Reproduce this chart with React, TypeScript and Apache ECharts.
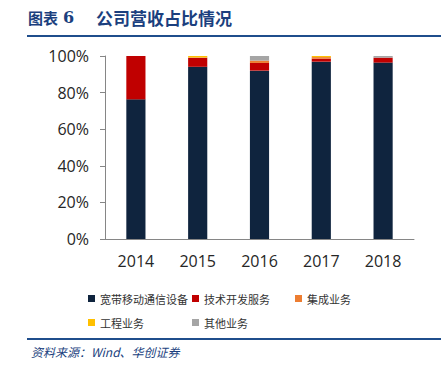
import React, { useEffect, useRef } from "react";
import * as echarts from "echarts";

const years = ["2014", "2015", "2016", "2017", "2018"];
const broadband = [76.3, 94.1, 92.0, 96.9, 96.4];
const techService = [23.7, 4.9, 4.2, 1.6, 2.7];
const integration = [0, 0.2, 1.3, 0.9, 0];
const engineering = [0, 0.8, 0, 0.6, 0];
const other = [0, 0, 2.5, 0, 0.9];
const seriesNames = ["宽带移动通信设备", "技术开发服务", "集成业务", "工程业务", "其他业务"];
const seriesColors = ["#0F243E", "#C00000", "#ED7D31", "#FFC000", "#A5A5A5"];
const yTicks = [0, 20, 40, 60, 80, 100];

export default function App() {
  const ref = useRef<HTMLDivElement>(null);
  useEffect(() => {
    if (!ref.current) return;
    const chart = echarts.init(ref.current, null, { renderer: "svg" });
    const values = [broadband, techService, integration, engineering, other];
    const legendText = {
      fontSize: 11,
      color: "#333333",
      fontFamily: "Noto Sans CJK SC",
    };
    const legendPos = [
      [83, 288],
      [187, 288],
      [290, 288],
      [83, 312],
      [187, 312],
    ];
    chart.setOption({
      animation: false,
      backgroundColor: "#ffffff",
      grid: { left: 105, right: 31, top: 56, bottom: 130, containLabel: false },
      xAxis: {
        type: "category",
        data: years,
        axisLine: { show: true, lineStyle: { color: "#868686", width: 1 } },
        axisTick: { show: false },
        axisLabel: {
          color: "#262626",
          fontSize: 16,
          fontFamily: "Open Sans",
          margin: 14,
        },
      },
      yAxis: {
        type: "value",
        min: yTicks[0],
        max: yTicks[yTicks.length - 1],
        interval: 20,
        axisLine: { show: true, lineStyle: { color: "#868686", width: 1 } },
        axisTick: { show: true, length: 5, lineStyle: { color: "#868686" } },
        splitLine: { show: false },
        axisLabel: {
          color: "#262626",
          fontSize: 16,
          fontFamily: "Open Sans",
          margin: 16,
          formatter: "{value}%",
        },
      },
      legend: seriesNames.map((name, i) => ({
        data: [name],
        left: legendPos[i][0],
        top: legendPos[i][1],
        itemWidth: 7,
        itemHeight: 7,
        itemTextGap: 3,
        icon: "rect",
        textStyle: legendText,
      })),
      series: seriesNames.map((name, i) => ({
        name,
        type: "bar",
        stack: "total",
        data: values[i],
        barWidth: "31%",
        itemStyle: { color: seriesColors[i] },
      })),
      graphic: [
        {
          type: "text",
          left: 28,
          top: 10,
          style: {
            text: "图表",
            fontSize: 15,
            fontWeight: "bold",
            fill: "#1B3F7E",
            fontFamily: "Noto Sans CJK SC",
          },
        },
        {
          type: "text",
          left: 63,
          top: 9,
          style: {
            text: "6",
            fontSize: 16,
            fontWeight: "bold",
            fill: "#1B3F7E",
            fontFamily: "DejaVu Serif",
          },
        },
        {
          type: "text",
          left: 96,
          top: 9,
          style: {
            text: "公司营收占比情况",
            fontSize: 17,
            fontWeight: "bold",
            fill: "#1B3F7E",
            fontFamily: "Noto Sans CJK SC",
          },
        },
        {
          type: "rect",
          shape: { x: 27, y: 35, width: 414, height: 2 },
          style: { fill: "#1F4E8C" },
        },
        {
          type: "rect",
          shape: { x: 27, y: 338, width: 414, height: 2 },
          style: { fill: "#1F4E8C" },
        },
        {
          type: "text",
          left: 31,
          top: 345,
          style: {
            text: "资料来源：Wind、华创证券",
            fontSize: 12,
            fontStyle: "italic",
            fill: "#1B3F7E",
            fontFamily: "Noto Sans CJK SC",
          },
        },
      ],
    });
    return () => chart.dispose();
  }, []);
  return (
    <div
      ref={ref}
      style={{ position: "fixed", left: 0, top: 0, width: 445, height: 369 }}
    />
  );
}
